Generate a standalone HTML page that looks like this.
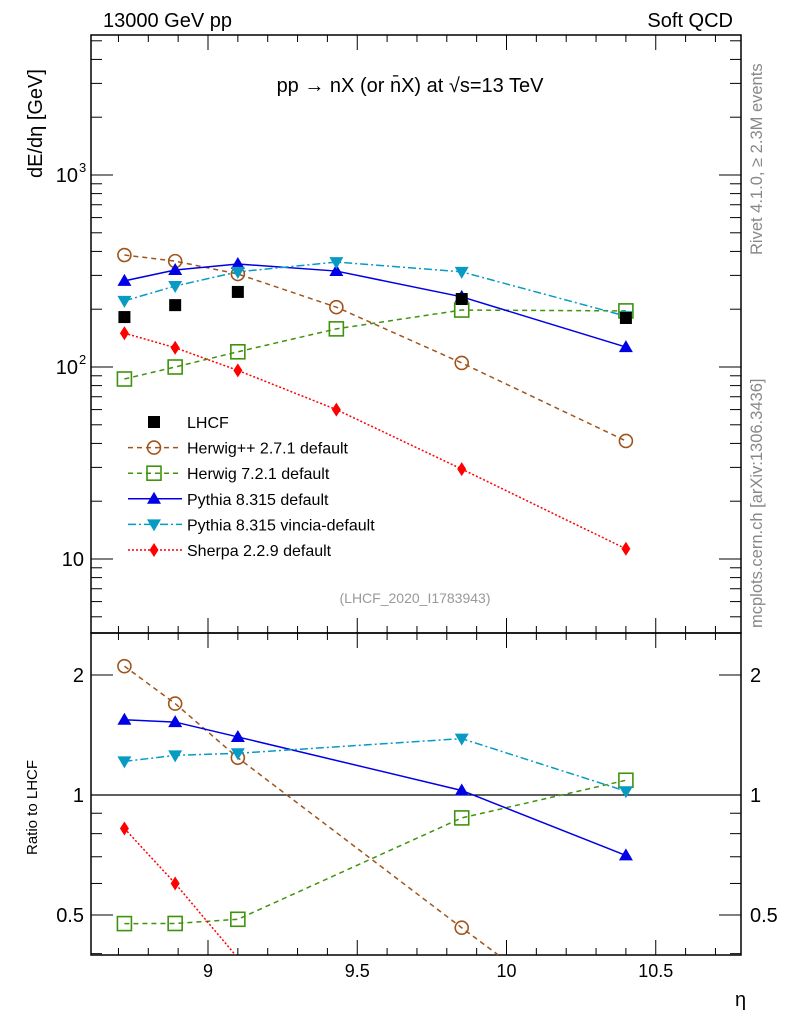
<!DOCTYPE html>
<html><head><meta charset="utf-8"><style>
html,body{margin:0;padding:0;background:#fff;overflow:hidden;width:786px;height:1024px;}
svg{display:block;font-family:"Liberation Sans",sans-serif;}
</style></head><body>
<svg id="c" width="786" height="1024" xmlns="http://www.w3.org/2000/svg">
<text x="103" y="27" font-size="20">13000 GeV pp</text>
<text x="733" y="27" font-size="20" text-anchor="end">Soft QCD</text>
<text transform="translate(762,255) rotate(-90)" font-size="16.5" fill="#888">Rivet 4.1.0, ≥ 2.3M events</text>
<text transform="translate(762,628) rotate(-90)" font-size="16.5" fill="#888">mcplots.cern.ch [arXiv:1306.3436]</text>
<text transform="translate(42,178) rotate(-90)" font-size="20">dE/dη [GeV]</text>
<text transform="translate(37,855) rotate(-90)" font-size="15">Ratio to LHCF</text>
<text x="735" y="1006" font-size="20">η</text>
<text x="410" y="92" font-size="20" text-anchor="middle">pp → nX (or n̄X) at √s=13 TeV</text>
<text x="415" y="603" font-size="14" fill="#999" text-anchor="middle">(LHCF_2020_I1783943)</text>
<g id="g"></g>
</svg>
<script>
const etas=[8.72,8.89,9.10,9.43,9.85,10.40];
const lhcf=[182,210,246,null,226,180];
const herwigpp=[383,356,305,205,105,41.2];
const herwig7=[86.6,100,120,158,198,196];
const pythia=[281,320,344,316,232,127];
const vincia=[221,264,313,352,313,184];
const sherpa=[150,126,96,60,29.4,11.3];
const xTicks=[9,9.5,10,10.5];
const NS="http://www.w3.org/2000/svg";
const g=document.getElementById('g');
const L=91,R=741,T=35,M=633,B=955;
const X=v=>208+(v-9)*298.5;
const Y=v=>175+(3-Math.log10(v))*192;
const YR=v=>795-Math.log10(v)*398.7;
function el(t,a,p){const e=document.createElementNS(NS,t);for(const k in a)e.setAttribute(k,a[k]);(p||g).appendChild(e);return e;}
function clipPts(pts,y0,y1){const out=[];
for(let i=0;i<pts.length-1;i++){let [ax,ay]=pts[i],[bx,by]=pts[i+1];
if((ay<y0&&by<y0)||(ay>y1&&by>y1))continue;
const lerp=(y)=>ax+(bx-ax)*(y-ay)/(by-ay);
if(ay<y0){ax=lerp(y0);ay=y0;}else if(ay>y1){ax=lerp(y1);ay=y1;}
[ax,ay]=[ax,ay];
let cx=bx,cy=by;
if(by<y0){cx=pts[i][0]+(bx-pts[i][0])*(y0-pts[i][1])/(by-pts[i][1]);cy=y0;}
else if(by>y1){cx=pts[i][0]+(bx-pts[i][0])*(y1-pts[i][1])/(by-pts[i][1]);cy=y1;}
out.push([[ax,ay],[cx,cy]]);}
return out;}
let f1=el('rect',{x:L,y:T,width:R-L,height:M-T,fill:'none',stroke:'#000','stroke-width':1.5});


let f2=el('rect',{x:L,y:M,width:R-L,height:B-M,fill:'none',stroke:'#000','stroke-width':1.5});


for(let v=8.7;v<=10.75;v+=0.1){const x=X(v);const maj=Math.abs(v*2-Math.round(v*2))<0.01;const l=maj?15:7;
for(const [y0,d] of [[T,1],[M,-1],[M,1],[B,-1]]){el('line',{x1:x,x2:x,y1:y0,y2:y0+d*l,stroke:'#000'});}}
xTicks.forEach(v=>{const t=el('text',{x:X(v),y:977,'font-size':18,'text-anchor':'middle'});t.textContent=String(v);

});
for(let d=0;d<4;d++)for(let m=1;m<10;m++){const v=m*Math.pow(10,d);const y=Y(v);if(y<T||y>M)continue;const l=m==1?22:11;
el('line',{x1:L,x2:L+l,y1:y,y2:y,stroke:'#000'});el('line',{x1:R,x2:R-l,y1:y,y2:y,stroke:'#000'});}
[[10,'10',''],[100,'10','2'],[1000,'10','3']].forEach(([v,b,s])=>{const t=el('text',{x:s?78:84,y:Y(v)+7,'font-size':20,'text-anchor':'end'});t.textContent=b;


if(s){const u=el('text',{x:79,y:Y(v)-3,'font-size':13});u.textContent=s;}});
[0.4,0.5,0.6,0.7,0.8,0.9,1,2].forEach(v=>{const y=YR(v);const l=(v==0.5||v==1||v==2)?22:11;
el('line',{x1:L,x2:L+l,y1:y,y2:y,stroke:'#000'});el('line',{x1:R,x2:R-l,y1:y,y2:y,stroke:'#000'});});
[[2,'2'],[1,'1'],[0.5,'0.5']].forEach(([v,s])=>{for(const [x,a] of [[84,'end'],[750,'start']]){const t=el('text',{x:x,y:YR(v)+7,'font-size':20,'text-anchor':a});t.textContent=s;

}});
let one=el('line',{x1:L,x2:R,y1:YR(1),y2:YR(1),stroke:'#000','stroke-width':1.2});


function marker(kind,col,x,y,p){
if(kind=='sq')return el('rect',{x:x-6,y:y-6,width:12,height:12,fill:'#000'},p);
if(kind=='osq')return el('rect',{x:x-7,y:y-7,width:14,height:14,fill:'none',stroke:col,'stroke-width':1.6},p);
if(kind=='circ')return el('circle',{cx:x,cy:y,r:6.5,fill:'none',stroke:col,'stroke-width':1.6},p);
if(kind=='up')return el('polygon',{points:`${x},${y-7} ${x-7},${y+5} ${x+7},${y+5}`,fill:col},p);
if(kind=='dn')return el('polygon',{points:`${x},${y+7} ${x-7},${y-5} ${x+7},${y-5}`,fill:col},p);
if(kind=='dia')return el('polygon',{points:`${x},${y-7} ${x-4.5},${y} ${x},${y+7} ${x+4.5},${y}`,fill:col},p);}
const series=[
{name:'herwigpp',label:'Herwig++ 2.7.1 default',d:herwigpp,col:'#a0541a',m:'circ',dash:'5,4'},
{name:'herwig7',label:'Herwig 7.2.1 default',d:herwig7,col:'#3f930c',m:'osq',dash:'5,4'},
{name:'pythia',label:'Pythia 8.315 default',d:pythia,col:'#0000e6',m:'up',dash:''},
{name:'vincia',label:'Pythia 8.315 vincia-default',d:vincia,col:'#079bc4',m:'dn',dash:'8,3,2,3'},
{name:'sherpa',label:'Sherpa 2.2.9 default',d:sherpa,col:'#ff0000',m:'dia',dash:'2,2'}];
function drawLine(pts,y0,y1,s,parent){
const segs=clipPts(pts,y0,y1);
if(!segs.length)return;
let d='';segs.forEach((sg,i)=>{const prev=i>0?segs[i-1][1]:null;
if(!prev||prev[0]!==sg[0][0]||prev[1]!==sg[0][1])d+=`M${sg[0][0]},${sg[0][1]}`;
d+=`L${sg[1][0]},${sg[1][1]}`;});
el('path',{d:d,fill:'none',stroke:s.col,'stroke-width':1.5,'stroke-dasharray':s.dash},parent);}
series.forEach(s=>{
const gm=el('g',{});


drawLine(etas.map((e,i)=>[X(e),Y(s.d[i])]),T,M,s,gm);
etas.forEach((e,i)=>{const y=Y(s.d[i]);if(y<T||y>M)return;const m=marker(s.m,s.col,X(e),y,gm);

});
const gr=el('g',{});


const pts=[];etas.forEach((e,i)=>{if(lhcf[i]!=null)pts.push([X(e),YR(s.d[i]/lhcf[i])]);});
drawLine(pts,M,B,s,gr);
pts.forEach(p=>{if(p[1]<M||p[1]>B)return;const m=marker(s.m,s.col,p[0],p[1],gr);

});
});
etas.forEach((e,i)=>{if(lhcf[i]==null)return;const m=marker('sq','#000',X(e),Y(lhcf[i]));

});
const lg=el('g',{});


const ents=[{label:'LHCF',m:'sq',col:'#000',dash:null}].concat(series);
ents.forEach((s,i)=>{const y=422+i*25.6;
const eg=el('g',{},lg);


if(s.dash!==null)el('line',{x1:128,x2:182,y1:y,y2:y,stroke:s.col,'stroke-width':1.5,'stroke-dasharray':s.dash},eg);
marker(s.m,s.col,154,y,eg);
const t=el('text',{x:187,y:y+6,'font-size':16},eg);t.textContent=s.label;});
</script>
</body></html>
